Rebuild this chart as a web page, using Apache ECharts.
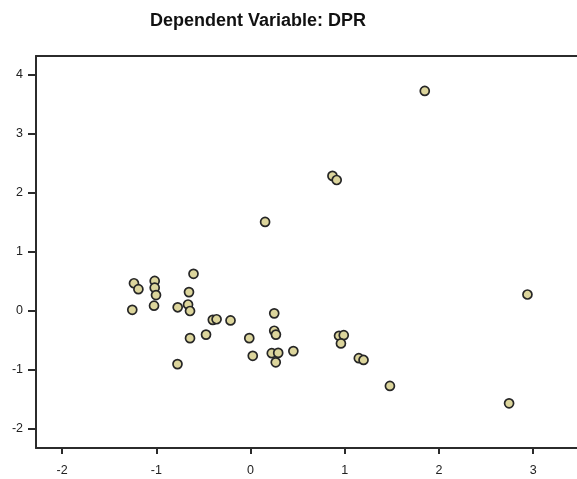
<!DOCTYPE html>
<html lang="en">
<head>
    <meta charset="UTF-8">
    <title>Dependent Variable: DPR</title>
    <script src="https://cdn.jsdelivr.net/npm/echarts@6/dist/echarts.min.js"></script>
    <style>
        html, body { margin: 0; padding: 0; background: #fff; }
        #chart { width: 577px; height: 479px; }
    </style>
</head>
<body>
<div id="chart"></div>
<script>
    // 数据 (x: 标准化预测值, y: 标准化残差)
    var xValues = [1.85, 0.87, 0.915, 0.155, 2.94, 2.745, 1.48, 0.94, 0.99, 0.96, 1.15, 1.20, 0.455,
        -0.605, -1.237, -1.19, -1.017, -1.017, -1.003, -1.255, -1.024, -0.653, -0.773, -0.663, -0.642,
        -0.40, -0.36, -0.212, -0.642, -0.472, -0.775, -0.013, 0.024, 0.252, 0.252, 0.27, 0.226, 0.294, 0.268];
    var yValues = [3.73, 2.29, 2.22, 1.51, 0.28, -1.565, -1.27, -0.42, -0.41, -0.55, -0.80, -0.83, -0.68,
        0.63, 0.47, 0.37, 0.51, 0.395, 0.27, 0.02, 0.09, 0.32, 0.063, 0.11, 0.0,
        -0.15, -0.14, -0.16, -0.46, -0.40, -0.90, -0.46, -0.76, -0.04, -0.335, -0.40, -0.715, -0.71, -0.87];
    var xTicks = [-2, -1, 0, 1, 2, 3];
    var yTicks = [-2, -1, 0, 1, 2, 3, 4];

    var points = xValues.map(function (x, i) {
        return [x, yValues[i]];
    });

    var chart = echarts.init(document.getElementById('chart'));
    var axisColor = '#2b2b2b';
    var xMin = -2.277, xMax = 3.466;
    var labelStyle = {
        color: '#222',
        fontFamily: 'Liberation Sans, Arial, sans-serif',
        fontSize: 12.5
    };

    chart.setOption({
        animation: false,
        title: {
            text: 'Dependent Variable: DPR',
            left: 145,
            top: 7,
            textStyle: {
                fontFamily: 'Liberation Sans, Arial, sans-serif',
                fontSize: 18,
                fontWeight: 'bold',
                color: '#111'
            }
        },
        grid: {
            left: 36,
            top: 56,
            right: 0,
            bottom: 31
        },
        xAxis: [{
            type: 'value',
            min: xMin,
            max: xMax,
            splitLine: { show: false },
            axisLine: { show: true, onZero: false, lineStyle: { color: axisColor, width: 2 } },
            axisTick: { show: true, length: 6, customValues: xTicks, lineStyle: { color: axisColor, width: 2 } },
            axisLabel: Object.assign({ margin: 16, customValues: xTicks }, labelStyle)
        }, {
            // 上边框
            type: 'value',
            position: 'top',
            min: xMin,
            max: xMax,
            splitLine: { show: false },
            axisLine: { show: true, onZero: false, lineStyle: { color: axisColor, width: 2 } },
            axisTick: { show: false },
            axisLabel: { show: false }
        }],
        yAxis: {
            type: 'value',
            min: -2.322,
            max: 4.322,
            splitLine: { show: false },
            axisLine: { show: true, onZero: false, lineStyle: { color: axisColor, width: 2 } },
            axisTick: { show: true, length: 8, customValues: yTicks, lineStyle: { color: axisColor, width: 2 } },
            axisLabel: Object.assign({ margin: 13, customValues: yTicks }, labelStyle)
        },
        series: [{
            type: 'scatter',
            data: points,
            symbol: 'circle',
            symbolSize: 9,
            itemStyle: {
                color: '#dcd59c',
                borderColor: '#262626',
                borderWidth: 1.7,
                opacity: 1
            }
        }]
    });
</script>
</body>
</html>
